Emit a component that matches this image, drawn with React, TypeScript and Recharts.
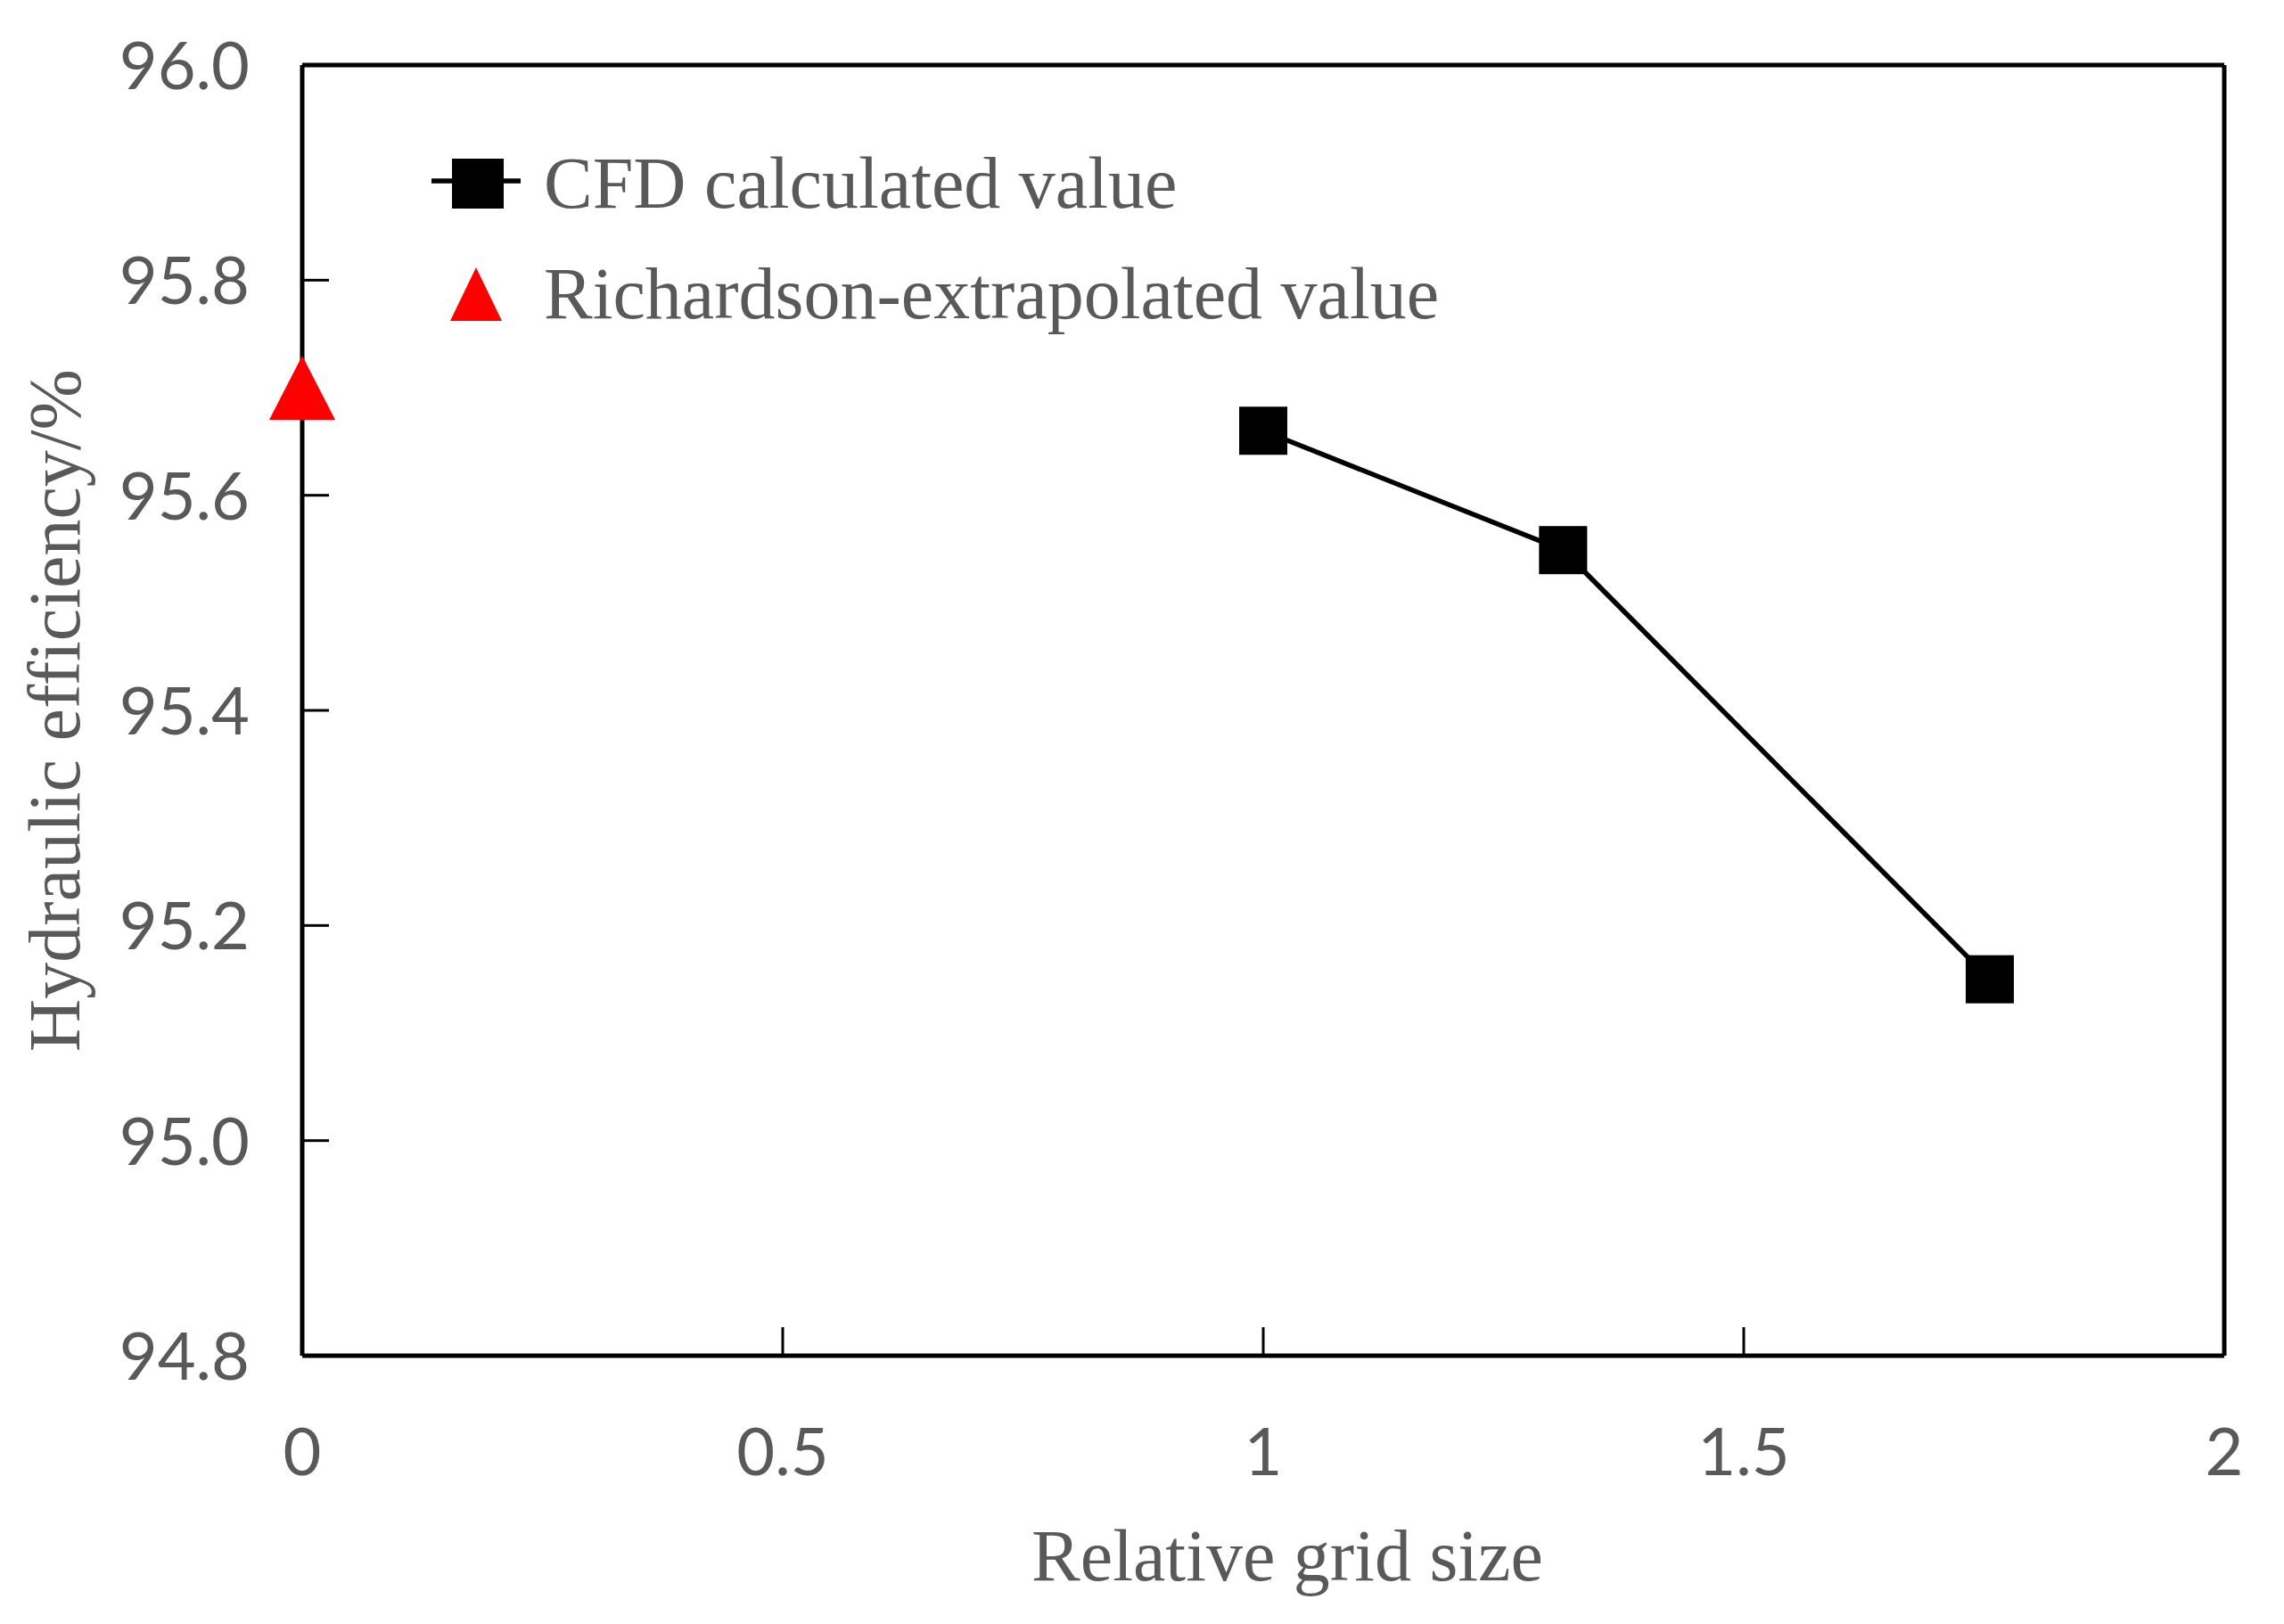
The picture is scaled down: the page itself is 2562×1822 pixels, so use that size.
import { ScatterChart, Scatter, XAxis, YAxis, ReferenceLine, Legend, Label } from 'recharts';

// values
const gridSize = [1, 1.312, 1.756];
const cfdEfficiency = [95.66, 95.549, 95.15];
const richardsonSize = [0];
const richardsonEfficiency = [95.7];
const xTicks = [0, 0.5, 1, 1.5, 2];
const yTicks = [94.8, 95.0, 95.2, 95.4, 95.6, 95.8, 96.0];
const seriesNames = ['CFD calculated value', 'Richardson-extrapolated value'];
const xTitle = 'Relative grid size';
const yTitle = 'Hydraulic efficiency/%';

const cfdData = gridSize.map((x, i) => ({ x, y: cfdEfficiency[i] }));
const richardsonData = richardsonSize.map((x, i) => ({ x, y: richardsonEfficiency[i] }));

const TEXT = '#595959';
const SERIF = '"Liberation Serif", "Times New Roman", serif';
const SANS = 'Lato, Calibri, sans-serif';

interface TickProps {
  x?: number;
  y?: number;
  payload?: { value: number };
}

const YTick = ({ x = 0, y = 0, payload }: TickProps) => (
  <g>
    <line x1={x} x2={x + 30} y1={y} y2={y} stroke="#000" strokeWidth={3} />
    <text x={x - 59} y={y + 27} textAnchor="end" fill={TEXT} fontFamily={SANS} fontSize={74}>
      {payload ? payload.value.toFixed(1) : ''}
    </text>
  </g>
);

const XTick = ({ x = 0, y = 0, payload }: TickProps) => (
  <g>
    <line x1={x} x2={x} y1={y} y2={y - 32} stroke="#000" strokeWidth={3} />
    <text x={x} y={y + 134} textAnchor="middle" fill={TEXT} fontFamily={SANS} fontSize={74}>
      {payload ? String(payload.value) : ''}
    </text>
  </g>
);

interface ShapeProps {
  cx?: number;
  cy?: number;
}

const squareShape = ({ cx, cy }: ShapeProps) => {
  if (cx == null || cy == null) return <g />;
  return <rect x={cx - 27} y={cy - 27} width={54} height={54} fill="#000" />;
};

const triangleShape = ({ cx, cy }: ShapeProps) => {
  if (cx == null || cy == null) return <g />;
  return <path d={`M${cx},${cy - 36} L${cx + 37},${cy + 36} L${cx - 37},${cy + 36} Z`} fill="#ff0000" />;
};

interface LegendProps {
  payload?: Array<{ value: string }>;
}

const LegendContent = ({ payload }: LegendProps) => {
  const items = payload && payload.length ? payload.map((p) => p.value) : seriesNames;
  return (
    <svg width={1200} height={240} style={{ display: 'block' }}>
      {items.map((name, i) => {
        const cy = 56 + i * 124;
        return (
          <g key={name}>
            {i === 0 ? (
              <g>
                <line x1={14} x2={114} y1={cy - 3} y2={cy - 3} stroke="#000" strokeWidth={5.5} />
                <rect x={37} y={cy - 28} width={58} height={56} fill="#000" />
              </g>
            ) : (
              <path d={`M64,${cy - 30} L93,${cy + 30} L35,${cy + 30} Z`} fill="#ff0000" />
            )}
            <text x={140} y={cy + 27} fill={TEXT} fontFamily={SERIF} fontSize={82}>
              {name}
            </text>
          </g>
        );
      })}
    </svg>
  );
};

export default function App() {
  return (
    <div style={{ position: 'absolute', left: 0, top: 0, background: '#fff' }}>
      <ScatterChart width={2562} height={1822} margin={{ top: 73, right: 67, bottom: 0, left: 0 }}>
        <XAxis
          type="number"
          dataKey="x"
          domain={[0, 2]}
          ticks={xTicks}
          interval={0}
          height={301}
          tickSize={0}
          tickMargin={0}
          tickLine={false}
          axisLine={{ stroke: '#000', strokeWidth: 5 }}
          tick={<XTick />}
        >
          <Label
            content={({ viewBox }: any) => (
              <text
                x={viewBox.x + viewBox.width / 2 + 27}
                y={viewBox.y + 252}
                textAnchor="middle"
                fill={TEXT}
                fontFamily={SERIF}
                fontSize={82}
              >
                {xTitle}
              </text>
            )}
          />
        </XAxis>
        <YAxis
          type="number"
          dataKey="y"
          domain={[94.8, 96]}
          ticks={yTicks}
          interval={0}
          width={339}
          tickSize={0}
          tickMargin={0}
          tickLine={false}
          axisLine={{ stroke: '#000', strokeWidth: 5 }}
          tick={<YTick />}
        >
          <Label
            content={({ viewBox }: any) => {
              const cx = viewBox.x + 89;
              const cy = viewBox.y + viewBox.height / 2;
              return (
                <text
                  transform={`translate(${cx},${cy}) rotate(-90)`}
                  x={0}
                  y={0}
                  textAnchor="middle"
                  fill={TEXT}
                  fontFamily={SERIF}
                  fontSize={82}
                >
                  {yTitle}
                </text>
              );
            }}
          />
        </YAxis>
        <ReferenceLine y={96} stroke="#000" strokeWidth={5} />
        <ReferenceLine x={2} stroke="#000" strokeWidth={5} />
        <Legend
          layout="vertical"
          align="center"
          verticalAlign="middle"
          content={<LegendContent />}
          wrapperStyle={{ left: 470, top: 150, width: 1200, height: 240 }}
        />
        <Scatter
          name={seriesNames[0]}
          data={cfdData}
          line={{ stroke: '#000', strokeWidth: 5.5 }}
          lineType="joint"
          shape={squareShape}
          fill="#000"
          isAnimationActive={false}
        />
        <Scatter
          name={seriesNames[1]}
          data={richardsonData}
          shape={triangleShape}
          fill="#ff0000"
          isAnimationActive={false}
        />
      </ScatterChart>
    </div>
  );
}
